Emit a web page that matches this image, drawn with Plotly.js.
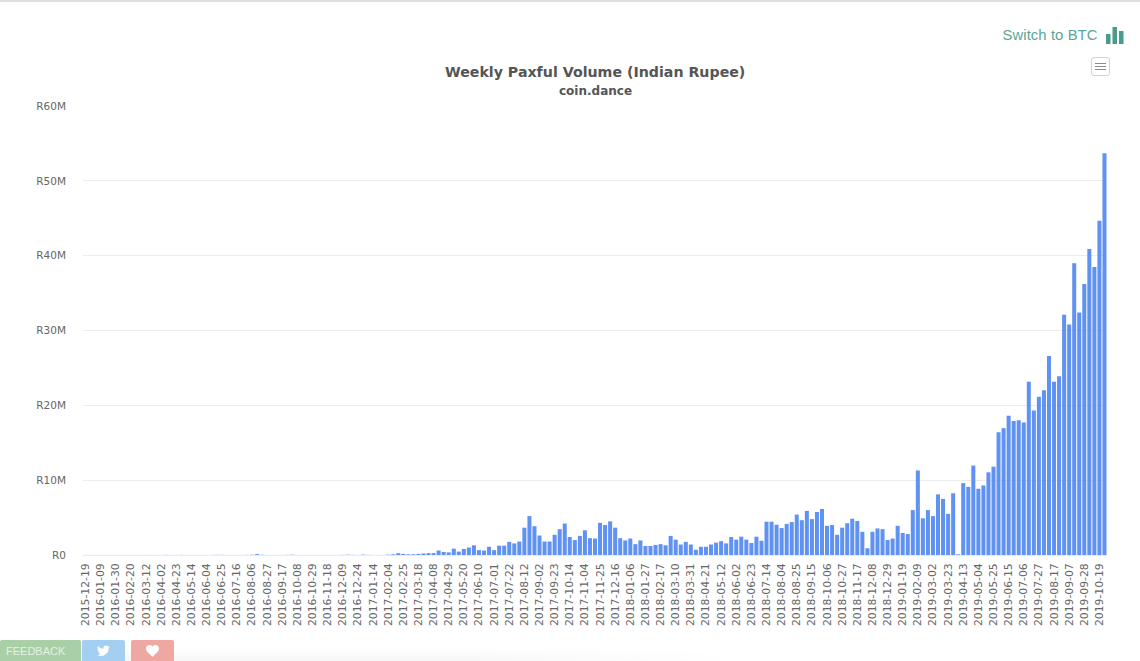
<!DOCTYPE html>
<html>
<head>
<meta charset="utf-8">
<script src="https://cdn.plot.ly/plotly-3.0.1.min.js"></script>
<style>
html,body{margin:0;padding:0;background:#fff;width:1140px;height:661px;overflow:hidden;font-family:"Liberation Sans",Arial,sans-serif}
#chart{position:absolute;left:0;top:0;width:1140px;height:661px}
.chrome{position:absolute}
#topline{left:0;top:0;width:1140px;height:2px;background:#e0e0e0}
#switch{left:1002.500px;top:26px;font-size:14.800px;line-height:18px;color:#5aa695;letter-spacing:.1px}
#icon{left:1105px;top:26px;width:19px;height:18px}
#menu{left:1091px;top:57px;width:17px;height:17px;border:1.500px solid #d2d2d2;border-radius:3px;background:#fff}
#bottomfade{left:120px;top:648px;width:620px;height:13px;background:linear-gradient(to bottom,#fff,#f6f6f6);-webkit-mask-image:linear-gradient(to right,#000 55%,transparent);mask-image:linear-gradient(to right,#000 55%,transparent)}
.btn{top:640px;height:21px;border-radius:2px 2px 0 0;color:#e4f1e2;font-size:11px;line-height:23px;text-align:left}
#fb{left:0;width:75px;padding-left:6px;background:#a9cfa6}
#tw{left:82px;width:43px;background:#a3d0f2}
#hr{left:131px;width:43px;background:#efa8a1}
.btn svg{position:absolute;left:15px;top:5px;width:13px;height:12px}
</style>
</head>
<body>
<div id="chart"></div>
<div class="chrome" id="topline"></div>
<div class="chrome" id="switch">Switch to BTC</div>
<svg class="chrome" id="icon" viewBox="0 0 19 18"><rect x="1" y="8" width="4.5" height="10" fill="#4a9c8a"/><rect x="7.5" y="1" width="4.5" height="17" fill="#4a9c8a"/><rect x="14" y="5" width="4.5" height="13" fill="#4a9c8a"/></svg>
<div class="chrome" id="menu"><svg width="17" height="17" viewBox="0 0 17 17"><path d="M3 5.5H14M3 8.5H14M3 11.5H14" stroke="#8a8a8a" stroke-width="1"/></svg></div>
<div class="chrome" id="bottomfade"></div>
<div class="chrome btn" id="fb">FEEDBACK</div>
<div class="chrome btn" id="tw"><svg viewBox="0 0 24 20"><path fill="#fff" d="M24 2.4c-.9.4-1.8.7-2.8.8 1-.6 1.8-1.6 2.2-2.7-1 .6-2 1-3.1 1.2C19.300.7 18 0 16.600 0c-2.700 0-4.900 2.200-4.900 4.900 0 .4 0 .8.1 1.100C7.700 5.800 4.100 3.900 1.700.9c-.4.7-.7 1.600-.7 2.500 0 1.700.9 3.200 2.200 4.100-.8 0-1.600-.2-2.200-.6v.1c0 2.400 1.700 4.400 3.900 4.800-.4.1-.8.2-1.300.2-.3 0-.6 0-.9-.1.6 2 2.400 3.400 4.600 3.400-1.700 1.300-3.800 2.100-6.100 2.100-.4 0-.8 0-1.200-.1C2.200 18.300 4.800 19 7.500 19c9.100 0 14-7.500 14-14v-.6c1-.7 1.800-1.600 2.500-2z"/></svg></div>
<div class="chrome btn" id="hr"><svg viewBox="0 0 24 22"><path fill="#fff" d="M12 21.500C5 15.500 0 11.500 0 6.500 0 2.800 2.800 0 6.300 0c2.300 0 4.500 1.200 5.700 3.100C13.200 1.200 15.400 0 17.700 0 21.200 0 24 2.800 24 6.500c0 5-5 9-12 15z"/></svg></div>
<script>
var weeks = [
"2015-12-19","2015-12-26","2016-01-02",
"2016-01-09","2016-01-16","2016-01-23",
"2016-01-30","2016-02-06","2016-02-13",
"2016-02-20","2016-02-27","2016-03-05",
"2016-03-12","2016-03-19","2016-03-26",
"2016-04-02","2016-04-09","2016-04-16",
"2016-04-23","2016-04-30","2016-05-07",
"2016-05-14","2016-05-21","2016-05-28",
"2016-06-04","2016-06-11","2016-06-18",
"2016-06-25","2016-07-02","2016-07-09",
"2016-07-16","2016-07-23","2016-07-30",
"2016-08-06","2016-08-13","2016-08-20",
"2016-08-27","2016-09-03","2016-09-10",
"2016-09-17","2016-09-24","2016-10-01",
"2016-10-08","2016-10-15","2016-10-22",
"2016-10-29","2016-11-05","2016-11-12",
"2016-11-18","2016-11-25","2016-12-02",
"2016-12-09","2016-12-14","2016-12-19",
"2016-12-24","2016-12-31","2017-01-07",
"2017-01-14","2017-01-21","2017-01-28",
"2017-02-04","2017-02-11","2017-02-18",
"2017-02-25","2017-03-04","2017-03-11",
"2017-03-18","2017-03-25","2017-04-01",
"2017-04-08","2017-04-15","2017-04-22",
"2017-04-29","2017-05-06","2017-05-13",
"2017-05-20","2017-05-27","2017-06-03",
"2017-06-10","2017-06-17","2017-06-24",
"2017-07-01","2017-07-08","2017-07-15",
"2017-07-22","2017-07-29","2017-08-05",
"2017-08-12","2017-08-19","2017-08-26",
"2017-09-02","2017-09-09","2017-09-16",
"2017-09-23","2017-09-30","2017-10-07",
"2017-10-14","2017-10-21","2017-10-28",
"2017-11-04","2017-11-11","2017-11-18",
"2017-11-25","2017-12-02","2017-12-09",
"2017-12-16","2017-12-23","2017-12-30",
"2018-01-06","2018-01-13","2018-01-20",
"2018-01-27","2018-02-03","2018-02-10",
"2018-02-17","2018-02-24","2018-03-03",
"2018-03-10","2018-03-17","2018-03-24",
"2018-03-31","2018-04-07","2018-04-14",
"2018-04-21","2018-04-28","2018-05-05",
"2018-05-12","2018-05-19","2018-05-26",
"2018-06-02","2018-06-09","2018-06-16",
"2018-06-23","2018-06-30","2018-07-07",
"2018-07-14","2018-07-21","2018-07-28",
"2018-08-04","2018-08-11","2018-08-18",
"2018-08-25","2018-09-01","2018-09-08",
"2018-09-15","2018-09-22","2018-09-29",
"2018-10-06","2018-10-13","2018-10-20",
"2018-10-27","2018-11-03","2018-11-10",
"2018-11-17","2018-11-24","2018-12-01",
"2018-12-08","2018-12-15","2018-12-22",
"2018-12-29","2019-01-05","2019-01-12",
"2019-01-19","2019-01-26","2019-02-02",
"2019-02-09","2019-02-16","2019-02-23",
"2019-03-02","2019-03-09","2019-03-16",
"2019-03-23","2019-03-30","2019-04-06",
"2019-04-13","2019-04-20","2019-04-27",
"2019-05-04","2019-05-11","2019-05-18",
"2019-05-25","2019-06-01","2019-06-08",
"2019-06-15","2019-06-22","2019-06-29",
"2019-07-06","2019-07-13","2019-07-20",
"2019-07-27","2019-08-03","2019-08-10",
"2019-08-17","2019-08-24","2019-08-31",
"2019-09-07","2019-09-14","2019-09-21",
"2019-09-28","2019-10-05","2019-10-12",
"2019-10-19","2019-10-26"];

// weekly volume, millions of rupees
var volumeM = [
.01,.01,.01,.01,.01,.01,.01,.01,.01,.01,
.01,.01,.01,.01,.01,.01,.02,.01,.01,.02,
.01,.01,.01,.01,.01,.01,.03,.02,.01,.01,
.01,.01,.02,.04,.12,.03,.01,.01,.01,.01,
.02,.04,.01,.01,.01,.01,.01,.01,.01,.01,
.01,.02,.04,.02,.01,.05,.02,.01,.01,.01,
.05,.1,.25,.15,.1,.1,.15,.2,.25,.25,
.6,.4,.35,.85,.45,.8,1.0,1.3,.65,.6,
1.1,.65,1.25,1.25,1.75,1.55,1.8,3.65,5.2,3.85,
2.6,1.8,1.8,2.7,3.45,4.2,2.4,2.0,2.55,3.3,
2.25,2.2,4.3,4.0,4.5,3.65,2.25,1.95,2.2,1.45,
1.95,1.2,1.2,1.35,1.45,1.3,2.55,2.05,1.4,1.75,
1.4,.7,1.1,1.1,1.4,1.65,1.85,1.55,2.4,2.05,
2.45,2.05,1.6,2.45,1.9,4.45,4.45,4.05,3.6,4.15,
4.4,5.4,4.65,5.9,4.8,5.75,6.15,3.9,4.0,2.7,
3.65,4.25,4.85,4.55,3.1,.9,3.1,3.55,3.45,2.0,
2.2,3.9,2.95,2.8,6.0,11.3,4.9,6.0,5.2,8.1,
7.5,5.5,8.25,.1,9.6,9.1,11.95,8.85,9.3,11.05,
11.8,16.4,16.95,18.6,17.9,18.0,17.7,23.15,19.3,21.15,
22.0,26.6,23.15,23.9,32.1,30.8,39.0,32.4,36.2,40.9,
38.5,44.65,53.7];

var xTickLabels = [
"2015-12-19","2016-01-09","2016-01-30","2016-02-20","2016-03-12","2016-04-02","2016-04-23","2016-05-14",
"2016-06-04","2016-06-25","2016-07-16","2016-08-06","2016-08-27","2016-09-17","2016-10-08","2016-10-29",
"2016-11-18","2016-12-09","2016-12-24","2017-01-14","2017-02-04","2017-02-25","2017-03-18","2017-04-08",
"2017-04-29","2017-05-20","2017-06-10","2017-07-01","2017-07-22","2017-08-12","2017-09-02","2017-09-23",
"2017-10-14","2017-11-04","2017-11-25","2017-12-16","2018-01-06","2018-01-27","2018-02-17","2018-03-10",
"2018-03-31","2018-04-21","2018-05-12","2018-06-02","2018-06-23","2018-07-14","2018-08-04","2018-08-25",
"2018-09-15","2018-10-06","2018-10-27","2018-11-17","2018-12-08","2018-12-29","2019-01-19","2019-02-09",
"2019-03-02","2019-03-23","2019-04-13","2019-05-04","2019-05-25","2019-06-15","2019-07-06","2019-07-27",
"2019-08-17","2019-09-07","2019-09-28","2019-10-19"];

var yTickVals = [0,10,20,30,40,50,60];
var yTickLabels = ["R0","R10M","R20M","R30M","R40M","R50M","R60M"];
var axisFont = '"DejaVu Sans",sans-serif';

Plotly.newPlot("chart",[{
  type:"bar",
  x:weeks,
  y:volumeM,
  marker:{color:"rgba(72,130,240,0.87)",line:{width:0}},
  hovertemplate:"%{x}: R%{y}M<extra></extra>"
}],{
  width:1140,height:661,
  margin:{l:83,r:33,t:106,b:106,pad:0},
  paper_bgcolor:"rgba(0,0,0,0)",plot_bgcolor:"#fff",
  bargap:0.2,
  showlegend:false,
  font:{family:axisFont,color:"#666"},
  xaxis:{type:"category",range:[-0.5,202.5],tickmode:"array",tickvals:xTickLabels,ticktext:xTickLabels,
    tickangle:-90,tickfont:{family:axisFont,size:10.8,color:"#666"},ticks:"",ticklabelstandoff:3,
    showgrid:false,showline:true,linecolor:"#ececec",linewidth:1,zeroline:false,automargin:false},
  yaxis:{range:[0,60],tickmode:"array",tickvals:yTickVals,ticktext:yTickLabels,
    tickfont:{family:axisFont,size:10.5,color:"#666"},ticks:"",ticklabelstandoff:16,
    showgrid:true,gridcolor:"#ececec",gridwidth:1,zeroline:false,showline:false,automargin:false},
  annotations:[
   {xref:"paper",yref:"paper",x:0.5,y:1,yshift:34,xanchor:"center",yanchor:"middle",showarrow:false,
    text:"<b>Weekly Paxful Volume (Indian Rupee)</b>",font:{family:axisFont,size:14.2,color:"#555"}},
   {xref:"paper",yref:"paper",x:0.5,y:1,yshift:15.5,xanchor:"center",yanchor:"middle",showarrow:false,
    text:"<b>coin.dance</b>",font:{family:axisFont,size:12,color:"#555"}}
  ]
},{displayModeBar:false,staticPlot:true});
</script>
</body>
</html>
